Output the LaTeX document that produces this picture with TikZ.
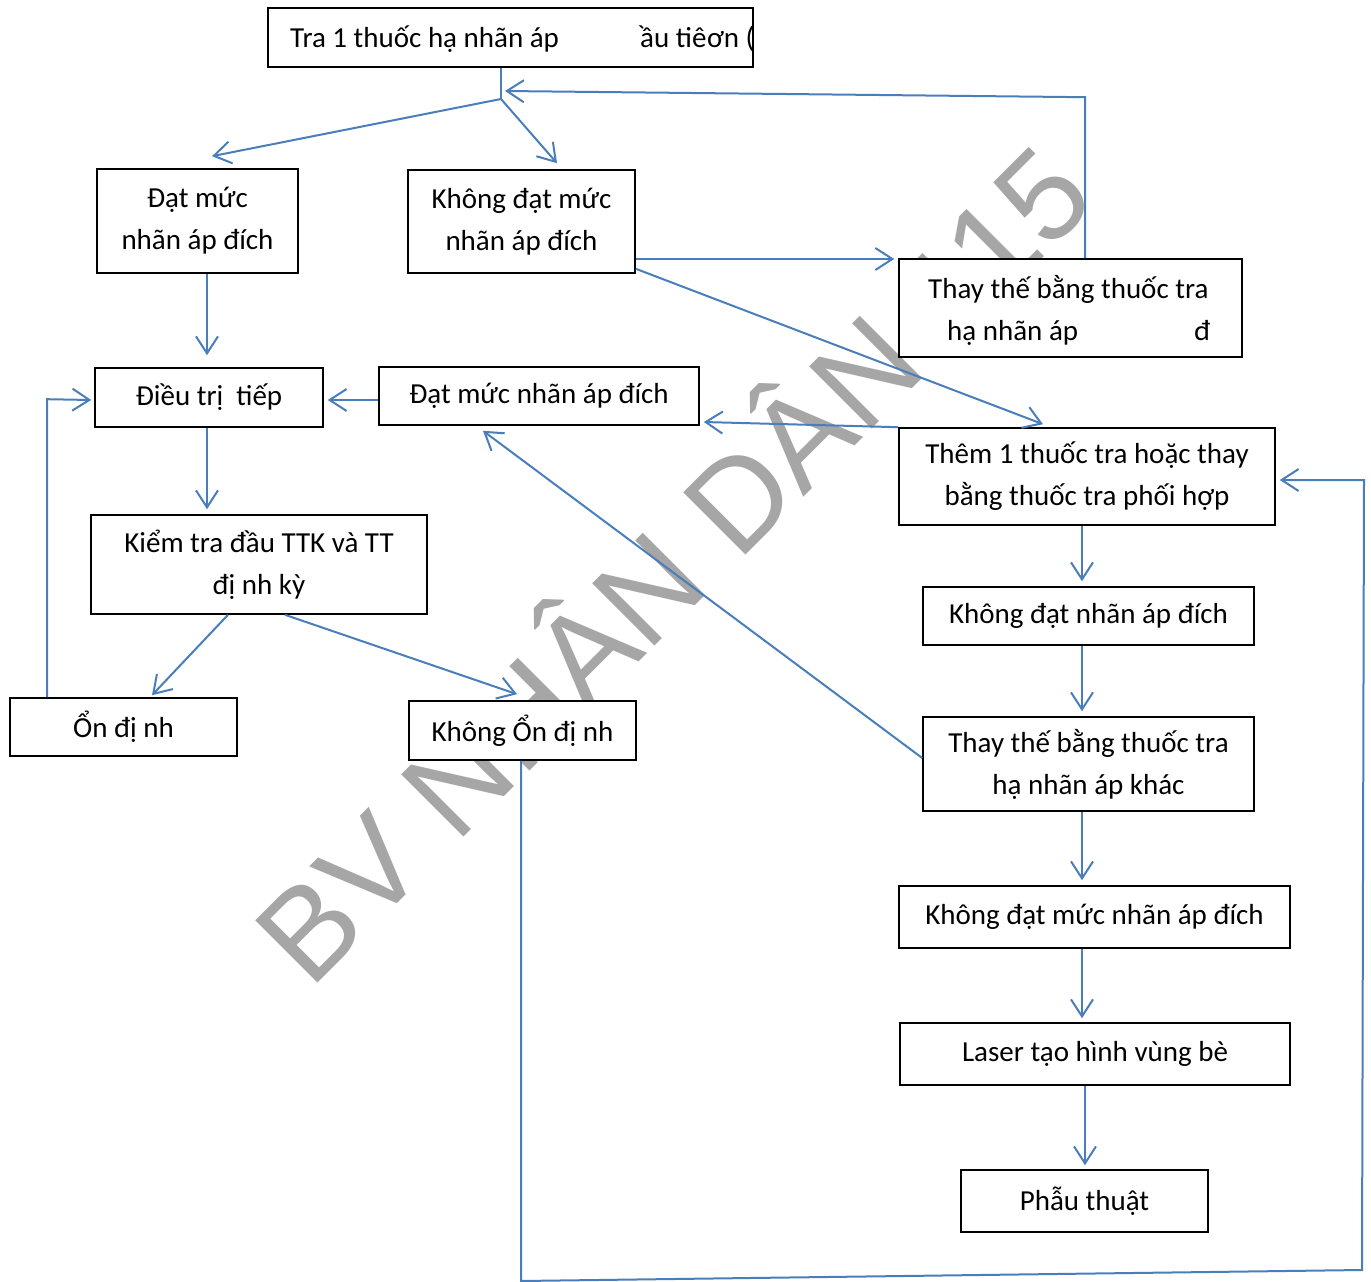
\documentclass[tikz,border=0pt]{standalone}
\usepackage{fontspec}
\setmainfont{Carlito}
\newfontfamily\wmfont{Liberation Sans}
\usetikzlibrary{arrows.meta,calc}
\definecolor{connc}{HTML}{4A7EBB}
\definecolor{wmc}{HTML}{A6A6A6}
\begin{document}
\begin{tikzpicture}[x=1pt,y=-1pt,
  box/.style={draw=black, line width=1.6pt, fill=white, rectangle, inner sep=0pt,
              font=\fontsize{29}{42}\selectfont, align=center},
  conn/.style={draw=connc, line width=2pt, -{Straight Barb[length=17pt,width=22pt,line width=2pt]}},
  plain/.style={draw=connc, line width=2pt},
  txt/.style={font=\fontsize{29}{42}\selectfont, inner sep=0pt, anchor=base west}]
\useasboundingbox (0,0) rectangle (1371,1282);
\fill[white] (0,0) rectangle (1371,1282);
% watermark
\node[rotate=45, anchor=base, text=wmc, inner sep=0pt,
      font=\wmfont\fontsize{128}{128}\selectfont] (wm) at (705,596) {BV NHÂN DÂN 115};
% boxes
\node[box, minimum width=485pt, minimum height=59pt] (top) at (510.5,37.5) {};
\begin{scope}
\clip (269,9) rectangle (752,66);
\node[txt] (t1) at (290,47) {Tra 1 thuốc hạ nhãn áp};
\node[txt] (t2) at (640,47) {ầu tiê};
\node[txt] (t3) at (707,47) {ơn (};
\end{scope}
\node[box, minimum width=201pt, minimum height=104pt] (dat) at (197.5,221) {Đạt mức\\nhãn áp đích};
\node[box, minimum width=227pt, minimum height=103pt] (khong) at (521.5,221.5) {Không đạt mức\\nhãn áp đích};
\node[box, minimum width=343pt, minimum height=98pt] (thay1) at (1070.5,308) {};
\node[txt] (th1) at (928,298) {Thay thế bằng thuốc tra};
\node[txt] (th2) at (947,340) {hạ nhãn áp};
\node[txt] (th3) at (1194,340) {đ};
\node[box, minimum width=228pt, minimum height=59pt] (dieutri) at (209,397.5) {Điều trị~ tiếp};
\node[box, minimum width=320pt, minimum height=58pt] (dat2) at (539,396) {Đạt mức nhãn áp đích};
\node[box, minimum width=376pt, minimum height=97pt] (them) at (1087,476.5) {Thêm 1 thuốc tra hoặc thay\\bằng thuốc tra phối hợp};
\node[box, minimum width=336pt, minimum height=99pt] (kiem) at (259,564.5) {Kiểm tra đầu TTK và TT\\đị nh kỳ};
\node[box, minimum width=331pt, minimum height=58pt] (kd2) at (1088.5,616) {Không đạt nhãn áp đích};
\node[box, minimum width=227pt, minimum height=58pt] (ondinh) at (123.5,727) {Ổn đị nh};
\node[box, minimum width=227pt, minimum height=59pt] (khongon) at (522.5,730.5) {Không Ổn đị nh};
\node[box, minimum width=331pt, minimum height=94pt] (thay2) at (1088.5,764) {Thay thế bằng thuốc tra\\hạ nhãn áp khác};
\node[box, minimum width=391pt, minimum height=62pt] (kd3) at (1094.5,917) {Không đạt mức nhãn áp đích};
\node[box, minimum width=390pt, minimum height=62pt] (laser) at (1095,1054) {Laser tạo hình vùng bè};
\node[box, minimum width=247pt, minimum height=62pt] (phau) at (1084.5,1201) {Phẫu thuật};
% connectors
\coordinate (J) at (501,99);
\draw[plain] ($(top.south)+(-9.5,0)$) -- (J);
\draw[conn] (J) -- ($(dat.north)+(14.5,-12)$);
\draw[conn] (J) -- ($(khong.north)+(35.5,-6)$);
\draw[conn] ($(thay1.north)+(14.5,0)$) -- ++(0,-161) -- ($(J)+(4,-8)$);
\draw[conn] ($(khong.east)+(0,37.5)$) -- ($(thay1.west)+(-4,-49)$);
\draw[conn] ($(khong.south east)+(0,-5)$) -- ($(them.north)+(-44,-3)$);
\draw[conn] (them.north west) -- ($(dat2.east)+(4,26)$);
\draw[conn] ($(thay2.west)+(0,-6)$) -- ($(dat2.south)+(-56,5)$);
\draw[conn] ($(dat2.west)+(0,4)$) -- ($(dieutri.east)+(4,2.5)$);
\draw[conn] ($(dat.south)+(9.5,0)$) -- ($(dieutri.north)+(-2,-12)$);
\draw[conn] ($(dieutri.south)+(-2,0)$) -- ($(kiem.north)+(-52,-5)$);
\draw[conn] ($(kiem.south)+(-31,0)$) -- ($(ondinh.north)+(28.5,-2)$);
\draw[conn] ($(kiem.south)+(26,0)$) -- ($(khongon.north)+(-5.5,-6)$);
\draw[conn] ($(ondinh.north)+(-76.5,0)$) -- ++(0,-298) -- ($(dieutri.west)+(-3,2.5)$);
\draw[conn] ($(them.south)+(-5,0)$) -- ($(kd2.north)+(-6.5,-5)$);
\draw[conn] ($(kd2.south)+(-6.5,0)$) -- ($(thay2.north)+(-6.5,-5)$);
\draw[conn] ($(thay2.south)+(-6.5,0)$) -- ($(kd3.north)+(-12.5,-5)$);
\draw[conn] ($(kd3.south)+(-12.5,0)$) -- ($(laser.north)+(-13,-4)$);
\draw[conn] ($(laser.south)+(-10,0)$) -- ($(phau.north)+(0.5,-4)$);
\coordinate (b1) at (521,1281);
\coordinate (b2) at (1362,1270);
\coordinate (b3) at (1364,480);
\draw[conn] ($(khongon.south)+(-1.5,0)$) -- (b1) -- (b2) -- (b3) -- ($(them.east)+(4,3.5)$);
\end{tikzpicture}
\end{document}
